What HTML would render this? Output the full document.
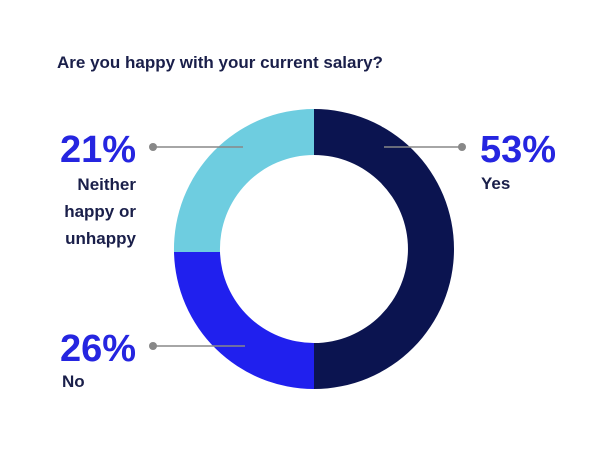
<!DOCTYPE html>
<html><head><style>
body{margin:0;background:#fff;}
svg text{font-family:"Liberation Sans",sans-serif;}
</style></head><body>
<svg width="613" height="444" viewBox="0 0 613 444" xmlns="http://www.w3.org/2000/svg">
<rect width="613" height="444" fill="#fff"/>
<text x="57" y="68" font-size="17" font-weight="bold" fill="#1a1f4a">Are you happy with your current salary?</text>
<path d="M314 109 A140 140 0 0 1 314 389 L314 343 A94 94 0 0 0 314 155 Z" fill="#0b1450"/>
<path d="M314 389 A140 140 0 0 1 174 252 L220 252 A94 94 0 0 0 314 343 Z" fill="#2020ee"/>
<path d="M174 252 A140 140 0 0 1 314 109 L314 155 A94 94 0 0 0 220 252 Z" fill="#6ecde0"/>
<g stroke="#888" stroke-width="1.5">
<line x1="153" y1="147" x2="243" y2="147"/>
<line x1="384" y1="147" x2="462" y2="147"/>
<line x1="153" y1="346" x2="245" y2="346"/>
</g>
<g fill="#888"><circle cx="153" cy="147" r="4"/><circle cx="462" cy="147" r="4"/><circle cx="153" cy="346" r="4"/></g>
<g fill="#2525e0" font-size="38" font-weight="bold">
<text x="136" y="162" text-anchor="end">21%</text>
<text x="480" y="162">53%</text>
<text x="136" y="361" text-anchor="end">26%</text>
</g>
<g fill="#1a1f4a" font-size="17" font-weight="bold">
<text x="136" y="190" text-anchor="end">Neither</text>
<text x="136" y="217" text-anchor="end">happy or</text>
<text x="136" y="244" text-anchor="end">unhappy</text>
<text x="481" y="189">Yes</text>
<text x="62" y="387">No</text>
</g>
</svg>
</body></html>
